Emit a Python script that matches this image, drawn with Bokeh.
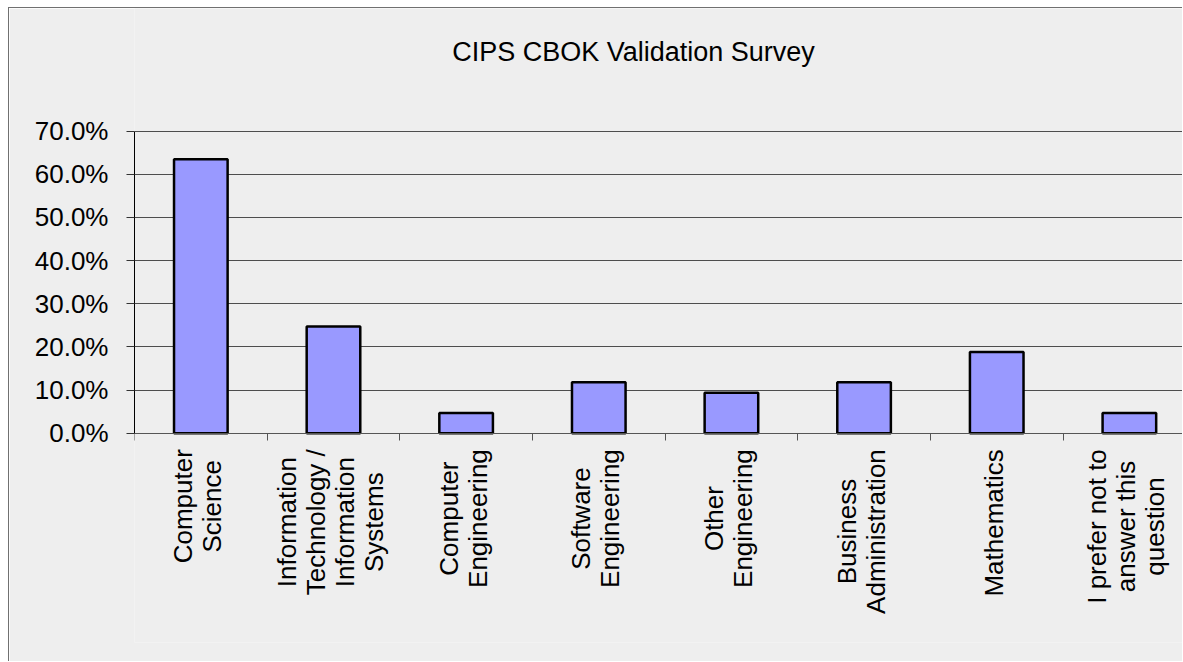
import math
from bokeh.plotting import figure
from bokeh.models import Range1d, FixedTicker, NumeralTickFormatter, Label
from bokeh.embed import file_html
from bokeh.resources import INLINE

title_text = "CIPS CBOK Validation Survey"
categories = [
    "Computer\nScience",
    "Information\nTechnology /\nInformation\nSystems",
    "Computer\nEngineering",
    "Software\nEngineering",
    "Other\nEngineering",
    "Business\nAdministration",
    "Mathematics",
    "I prefer not to\nanswer this\nquestion",
]
shares = [0.635, 0.247, 0.047, 0.118, 0.094, 0.118, 0.188, 0.047]
y_ticks = [0.0, 0.1, 0.2, 0.3, 0.4, 0.5, 0.6, 0.7]

FONT = "Liberation Sans"
BG = "#eeeeee"

centres = [i + 0.5 for i in range(len(categories))]
boundaries = list(range(len(categories) + 1))

# the frame covers the whole chart area so that the category labels and the
# title (drawn as labels in data space) are not clipped
p = figure(width=1174, height=654,
           x_range=Range1d(0, 7.908), y_range=Range1d(-0.4852, 0.9844),
           output_backend="svg", toolbar_location=None,
           min_border_left=125, min_border_right=0,
           min_border_top=0, min_border_bottom=20,
           background_fill_color=BG, border_fill_color=BG,
           outline_line_color=None)
p.styles = {"margin-left": "8px", "margin-top": "7px",
            "border-left": "1px solid #707070", "border-top": "1px solid #707070"}

# y axis
ya = p.yaxis[0]
ya.ticker = FixedTicker(ticks=y_ticks)
ya.formatter = NumeralTickFormatter(format="0.0%")
ya.bounds = (y_ticks[0], y_ticks[-1])
ya.major_label_text_font = FONT
ya.major_label_text_font_size = "26px"
ya.major_label_text_color = "black"
ya.major_label_standoff = 18
ya.major_tick_out = 8
ya.major_tick_in = 0
ya.minor_tick_line_color = None
ya.axis_line_color = "black"
ya.major_tick_line_color = "#333333"

# x axis at 0: tick marks at category boundaries, labels drawn separately
xa = p.xaxis[0]
xa.fixed_location = 0
xa.ticker = FixedTicker(ticks=boundaries)
xa.major_label_text_font_size = "0px"
xa.major_label_text_alpha = 0
xa.major_tick_out = 7
xa.major_tick_in = 0
xa.minor_tick_line_color = None
xa.major_tick_line_color = "#555555"
xa.axis_line_color = "#555555"

p.xgrid.grid_line_color = None
p.ygrid.ticker = FixedTicker(ticks=y_ticks)
p.ygrid.grid_line_color = "#4d4d4d"
p.ygrid.grid_line_width = 1

p.vbar(x=centres, top=shares, bottom=0, width=0.404,
       fill_color="#9999ff", line_color="black", line_width=2.5)

for xc, txt in zip(centres, categories):
    p.add_layout(Label(x=xc, y=0, x_offset=-3, y_offset=-16, text=txt,
                       angle=math.pi / 2,
                       anchor="center_right", text_align="center",
                       text_font=FONT, text_font_size="26px",
                       text_color="black", text_line_height=0.97))

p.add_layout(Label(x=3.762, y=0.8845, text=title_text,
                   text_align="center", text_baseline="alphabetic",
                   text_font=FONT, text_font_size="27px", text_color="black"))

open("out.html", "w").write(file_html(p, INLINE))
